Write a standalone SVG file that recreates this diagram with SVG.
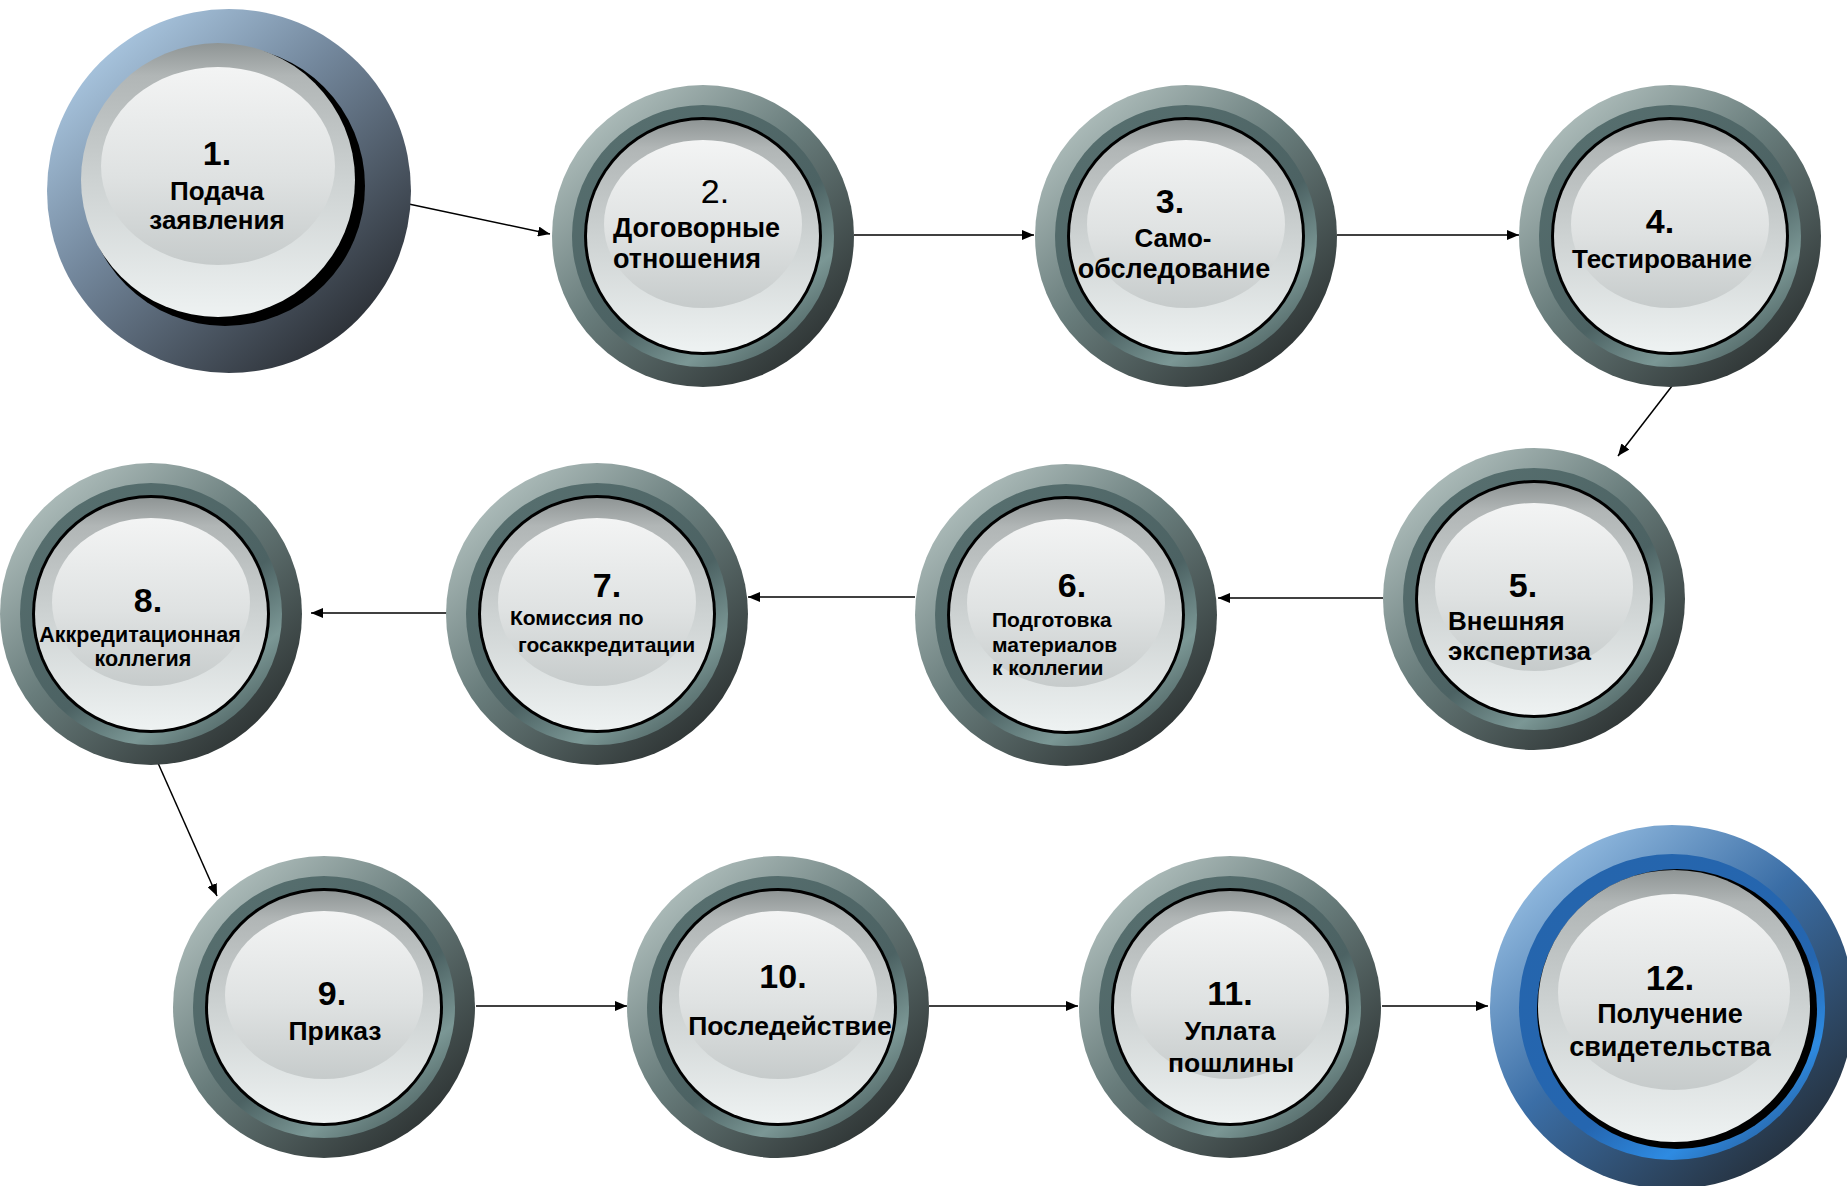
<svg xmlns="http://www.w3.org/2000/svg" width="1847" height="1186" viewBox="0 0 1847 1186">
<defs>
<linearGradient id="gOuterGray" x1="0.15" y1="0.1" x2="0.85" y2="0.9">
<stop offset="0" stop-color="#aebdbb"/><stop offset="0.45" stop-color="#687c7b"/><stop offset="1" stop-color="#2e3434"/>
</linearGradient>
<linearGradient id="gBandGray" x1="0.2" y1="0.1" x2="0.8" y2="0.9">
<stop offset="0" stop-color="#566e6e"/><stop offset="0.6" stop-color="#4c6263"/><stop offset="0.85" stop-color="#7b9795"/><stop offset="1" stop-color="#5b7271"/>
</linearGradient>
<linearGradient id="gDisk" x1="0" y1="0" x2="0" y2="1">
<stop offset="0" stop-color="#8f9595"/><stop offset="0.12" stop-color="#b1b6b6"/><stop offset="0.5" stop-color="#cdd2d2"/><stop offset="1" stop-color="#eef2f2"/>
</linearGradient>
<linearGradient id="gHi" x1="0" y1="0" x2="0" y2="1">
<stop offset="0" stop-color="#f3f4f4"/><stop offset="0.55" stop-color="#dfe2e2"/><stop offset="1" stop-color="#c6cbcb"/>
</linearGradient>
<linearGradient id="gOuterSteel" x1="0.15" y1="0.1" x2="0.85" y2="0.9">
<stop offset="0" stop-color="#a9c6e0"/><stop offset="0.4" stop-color="#73879c"/><stop offset="1" stop-color="#2b2f35"/>
</linearGradient>
<linearGradient id="gOuterBlue" x1="0.15" y1="0.1" x2="0.85" y2="0.9">
<stop offset="0" stop-color="#93bbe0"/><stop offset="0.45" stop-color="#3b6ea6"/><stop offset="1" stop-color="#25303c"/>
</linearGradient>
<linearGradient id="gBandBlue" x1="0.2" y1="0.1" x2="0.8" y2="0.9">
<stop offset="0" stop-color="#2565ad"/><stop offset="0.65" stop-color="#2566b0"/><stop offset="0.88" stop-color="#2e8be2"/><stop offset="1" stop-color="#2a70b8"/>
</linearGradient>
<marker id="arr" markerUnits="userSpaceOnUse" markerWidth="13" markerHeight="10" refX="12" refY="5" orient="auto">
<path d="M0,0 L12,5 L0,10 z" fill="#000"/>
</marker>
<g id="btn">
<circle r="151" fill="url(#gOuterGray)"/>
<circle r="131" fill="url(#gBandGray)"/>
<circle r="119" fill="#000"/>
<circle r="116" fill="url(#gDisk)"/>
<ellipse cx="0" cy="-12" rx="99" ry="84" fill="url(#gHi)"/>
</g>
</defs>
<style>
text{font-family:"Liberation Sans",Arial,sans-serif;font-weight:bold;fill:#000}
.num{font-size:34px}
.big{font-size:26px}
.mid{font-size:26.5px}
.sm{font-size:21px}
.c{text-anchor:middle}
.conn line{stroke:#000;stroke-width:1.5;marker-end:url(#arr)}
</style>
<rect width="1847" height="1186" fill="#fff"/>

<g class="conn" id="connectors">
<line x1="404" y1="203" x2="550" y2="234"/>
<line x1="854" y1="235" x2="1034" y2="235"/>
<line x1="1337" y1="235" x2="1519" y2="235"/>
<line x1="1672" y1="386" x2="1618" y2="456"/>
<line x1="1383" y1="598" x2="1218" y2="598"/>
<line x1="915" y1="597" x2="748" y2="597"/>
<line x1="447" y1="613" x2="311" y2="613"/>
<line x1="158" y1="763" x2="217" y2="896"/>
<line x1="476" y1="1006" x2="627" y2="1006"/>
<line x1="929" y1="1006" x2="1078" y2="1006"/>
<line x1="1382" y1="1006" x2="1488" y2="1006"/>
</g>

<g id="node-1">
<circle cx="229" cy="191" r="182" fill="url(#gOuterSteel)"/>
<circle cx="225" cy="186" r="140" fill="#000"/>
<circle cx="218" cy="180" r="137" fill="url(#gDisk)"/>
<ellipse cx="218" cy="166" rx="117" ry="99" fill="url(#gHi)"/>
<text class="num c" x="217" y="165">1.</text>
<text class="big c" x="217" y="200">Подача</text>
<text class="big c" x="217" y="229">заявления</text>
</g>

<g id="node-2">
<use href="#btn" x="703" y="236"/>
<text class="c" x="715" y="203" style="font-weight:normal;font-size:34px">2.</text>
<text class="big" x="613" y="237" style="font-size:27px">Договорные</text>
<text class="big" x="613" y="268" style="font-size:27px">отношения</text>
</g>

<g id="node-3">
<use href="#btn" x="1186" y="236"/>
<text class="num c" x="1170" y="213">3.</text>
<text class="big c" x="1173" y="247">Само-</text>
<text class="big c" x="1174" y="278" style="font-size:27px">обследование</text>
</g>

<g id="node-4">
<use href="#btn" x="1670" y="236"/>
<text class="num c" x="1660" y="233">4.</text>
<text class="big c" x="1662" y="268">Тестирование</text>
</g>

<g id="node-5">
<use href="#btn" x="1534" y="599"/>
<text class="num c" x="1523" y="597">5.</text>
<text class="big" x="1448" y="630">Внешняя</text>
<text class="big" x="1448" y="660">экспертиза</text>
</g>

<g id="node-6">
<use href="#btn" x="1066" y="615"/>
<text class="num c" x="1072" y="597">6.</text>
<text class="sm" x="992" y="627">Подготовка</text>
<text class="sm" x="992" y="652">материалов</text>
<text class="sm" x="992" y="675">к коллегии</text>
</g>

<g id="node-7">
<use href="#btn" x="597" y="614"/>
<text class="num c" x="607" y="597">7.</text>
<text class="sm" x="510" y="625">Комиссия по</text>
<text class="sm" x="518" y="652">госаккредитации</text>
</g>

<g id="node-8">
<use href="#btn" x="151" y="614"/>
<text class="num c" x="148" y="612">8.</text>
<text class="sm c" x="140" y="642" style="font-size:21.5px">Аккредитационная</text>
<text class="sm c" x="143" y="666" style="font-size:21.5px">коллегия</text>
</g>

<g id="node-9">
<use href="#btn" x="324" y="1007"/>
<text class="num c" x="332" y="1005">9.</text>
<text class="mid c" x="335" y="1040">Приказ</text>
</g>

<g id="node-10">
<use href="#btn" x="778" y="1007"/>
<text class="num c" x="783" y="988">10.</text>
<text class="mid c" x="790" y="1035">Последействие</text>
</g>

<g id="node-11">
<use href="#btn" x="1230" y="1007"/>
<text class="num c" x="1230" y="1005">11.</text>
<text class="mid c" x="1230" y="1040">Уплата</text>
<text class="mid c" x="1231" y="1072">пошлины</text>
</g>

<g id="node-12">
<circle cx="1672" cy="1007" r="182" fill="url(#gOuterBlue)"/>
<circle cx="1672" cy="1007" r="153" fill="url(#gBandBlue)"/>
<circle cx="1677" cy="1009" r="140" fill="#000"/>
<circle cx="1674" cy="1006" r="136" fill="url(#gDisk)"/>
<ellipse cx="1674" cy="992" rx="116" ry="98" fill="url(#gHi)"/>
<text class="num c" x="1670" y="990" style="font-size:35px">12.</text>
<text class="c" x="1670" y="1023" style="font-size:27px">Получение</text>
<text class="c" x="1670" y="1056" style="font-size:27px">свидетельства</text>
</g>
</svg>
